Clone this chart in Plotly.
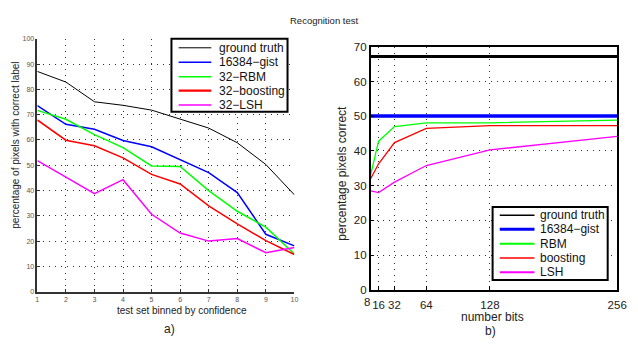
import plotly.graph_objects as go

W, H = 638, 344

# ---- Panel a) data ----
bins = [1, 2, 3, 4, 5, 6, 7, 8, 9, 10]
a_ground_truth = [87.1, 82.9, 75.1, 73.7, 71.8, 68.2, 64.7, 58.9, 50.3, 38.3]
a_gist = [73.6, 66.2, 64.2, 59.8, 57.3, 52.2, 47.1, 39.2, 22.7, 18.1]
a_rbm = [71.7, 68.2, 62.1, 57.0, 49.7, 49.5, 40.0, 31.8, 25.5, 14.9]
a_boosting = [67.9, 59.9, 57.7, 52.9, 46.4, 42.6, 33.9, 26.8, 20.2, 14.7]
a_lsh = [51.8, 45.3, 38.8, 44.3, 30.6, 23.2, 20.0, 21.0, 15.4, 17.5]
a_yticks = [0, 10, 20, 30, 40, 50, 60, 70, 80, 90, 100]

# ---- Panel b) data ----
nbits = [8, 16, 32, 64, 128, 256]
nbits_labels = ["8", "16", "32", "64", "128", "256"]
b_ground_truth = [67.2, 67.2, 67.2, 67.2, 67.2, 67.2]
b_gist = [50.1, 50.1, 50.1, 50.1, 50.1, 50.1]
b_rbm = [33.1, 42.8, 47.0, 48.1, 48.1, 48.9]
b_boosting = [32.0, 36.3, 42.4, 46.5, 47.3, 47.3]
b_lsh = [28.5, 28.0, 31.0, 35.8, 40.3, 44.2]
b_yticks = [0, 10, 20, 30, 40, 50, 60, 70]

FONT = "Liberation Sans, Arial, sans-serif"

def px_x(p):
    return p / W

def px_y(p):
    return 1 - p / H

fig = go.Figure()

a_series = [
    ("ground truth", a_ground_truth, "#000000", 1.0),
    ("16384\u2212gist", a_gist, "#0000ff", 1.5),
    ("32\u2212RBM", a_rbm, "#00ff00", 1.5),
    ("32\u2212boosting", a_boosting, "#ff0000", 1.5),
    ("32\u2212LSH", a_lsh, "#ff00ff", 1.5),
]
for name, ys, col, lw in a_series:
    fig.add_trace(go.Scatter(x=bins, y=ys, mode="lines", name=name,
                             line=dict(color=col, width=lw),
                             xaxis="x", yaxis="y", showlegend=False))

b_series = [
    ("ground truth", b_ground_truth, "#000000", 3.0),
    ("16384\u2212gist", b_gist, "#0000ff", 3.5),
    ("RBM", b_rbm, "#00ff00", 1.3),
    ("boosting", b_boosting, "#ff0000", 1.3),
    ("LSH", b_lsh, "#ff00ff", 1.3),
]
for name, ys, col, lw in b_series:
    fig.add_trace(go.Scatter(x=nbits, y=ys, mode="lines", name=name,
                             line=dict(color=col, width=lw),
                             xaxis="x2", yaxis="y2", showlegend=False))

grid = dict(showgrid=True, gridcolor="#333333", griddash="1px,5px", gridwidth=1)

# the first label ("8") is drawn right-aligned to its tick so it does not collide with "16"
b_ticktext = [""] + nbits_labels[1:]

fig.update_layout(
    width=W, height=H,
    margin=dict(l=0, r=0, t=0, b=0),
    paper_bgcolor="white", plot_bgcolor="white",
    font=dict(family=FONT, color="#222222"),
    showlegend=False,
    xaxis=dict(domain=[px_x(36), px_x(298)], range=[1, 10], tickvals=bins,
               showline=True, linecolor="#333333", linewidth=1.5, mirror=False,
               ticks="inside", ticklen=3, tickcolor="#333333", tickangle=0,
               tickfont=dict(size=7, color="#555555"), zeroline=False,
               anchor="y", **grid),
    yaxis=dict(domain=[px_y(296), px_y(34)], range=[0, 100], tickvals=a_yticks,
               showline=True, linecolor="#333333", linewidth=1.5, mirror=False,
               ticks="inside", ticklen=3, tickcolor="#333333",
               tickfont=dict(size=7, color="#555555"), zeroline=False,
               anchor="x", **grid),
    xaxis2=dict(domain=[px_x(375.7), px_x(627)], range=[8, 256],
                tickvals=nbits, ticktext=b_ticktext, ticklabelstandoff=4,
                showline=True, linecolor="#000000", linewidth=1.5, mirror=True,
                ticks="inside", ticklen=4, tickcolor="#000000", tickangle=0,
                tickfont=dict(size=11.5, color="#222222"), zeroline=False,
                anchor="y2", **grid),
    yaxis2=dict(domain=[px_y(294), px_y(42.3)], range=[0, 70], tickvals=b_yticks,
                showline=True, linecolor="#000000", linewidth=1.5, mirror=True,
                ticks="inside", ticklen=4, tickcolor="#000000",
                tickfont=dict(size=11.5, color="#222222"), zeroline=False,
                anchor="x2", **grid),
)

fig.add_annotation(text=nbits_labels[0], x=nbits[0], xref="x2", y=px_y(299.5), yref="paper",
                   xanchor="right", yanchor="top", showarrow=False, xshift=0.5,
                   borderpad=0, font=dict(size=11.5, family=FONT, color="#222222"))

# ---- hand-built MATLAB-style legends ----
def add_legend(series, box, item_ys, line_x0, line_x1, text_x, fsize, lw_override=None):
    x0, y0, x1, y1 = box
    fig.add_shape(type="rect", xref="paper", yref="paper",
                  x0=px_x(x0), x1=px_x(x1), y0=px_y(y1), y1=px_y(y0),
                  fillcolor="white", line=dict(color="black", width=2), layer="above")
    for i, (name, _, col, lw) in enumerate(series):
        yy = item_ys[i]
        w = lw if lw_override is None else lw_override[i]
        fig.add_shape(type="line", xref="paper", yref="paper",
                      x0=px_x(line_x0), x1=px_x(line_x1), y0=px_y(yy), y1=px_y(yy),
                      line=dict(color=col, width=w), layer="above")
        fig.add_annotation(text=name, x=px_x(text_x), y=px_y(yy), xref="paper", yref="paper",
                           xanchor="left", yanchor="middle", showarrow=False,
                           font=dict(size=fsize, family=FONT, color="#111111"))

add_legend(a_series, (172.7, 34, 291, 109.7), [43.3, 58.3, 73.3, 87.7, 102.7],
           180, 213.3, 219.5, 12, lw_override=[1.0, 1.5, 1.3, 2.2, 1.5])
add_legend(b_series, (500, 208.3, 617.3, 284), [216.7, 231.3, 246.3, 261.1, 275.9],
           507.3, 542.7, 546, 12, lw_override=[1.5, 3.0, 2.0, 1.5, 2.0])

ann = [
    dict(text="Recognition test", x=px_x(328), y=px_y(15), size=9.5),
    dict(text="test set binned by confidence", x=px_x(183), y=px_y(315), size=10),
    dict(text="a)", x=px_x(171), y=px_y(335), size=12),
    dict(text="number bits", x=px_x(500.3), y=px_y(322.3), size=12),
    dict(text="b)", x=px_x(497.7), y=px_y(336.5), size=12),
]
for a in ann:
    fig.add_annotation(text=a["text"], x=a["x"], y=a["y"], xref="paper", yref="paper",
                       xanchor="center", yanchor="middle", showarrow=False,
                       font=dict(size=a["size"], family=FONT, color="#222222"))

fig.add_annotation(text="percentage of pixels with correct label", x=px_x(14), y=px_y(144),
                   xref="paper", yref="paper", xanchor="center", yanchor="middle",
                   showarrow=False, textangle=-90,
                   font=dict(size=10, family=FONT, color="#222222"))
fig.add_annotation(text="percentage pixels correct", x=px_x(346.7), y=px_y(173.5),
                   xref="paper", yref="paper", xanchor="center", yanchor="middle",
                   showarrow=False, textangle=-90,
                   font=dict(size=12, family=FONT, color="#222222"))

fig.write_html(
    "out.html",
    config={"displayModeBar": False},
    post_script="document.body.style.margin='0';document.body.style.padding='0';",
)
